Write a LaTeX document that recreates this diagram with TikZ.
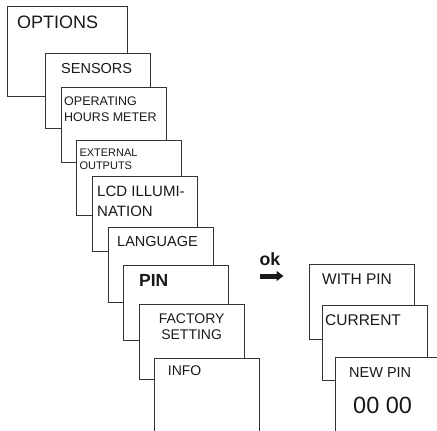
\documentclass[tikz,border=0pt]{standalone}
\usepackage{fontspec}
\setmainfont{Liberation Sans}
\usetikzlibrary{positioning, arrows.meta}

\begin{document}
\begin{tikzpicture}[
x=1pt, y=-1pt,
menubox/.style={rectangle, draw=black!80, fill=white, line width=0.8pt, anchor=north west, minimum width=104.5pt, minimum height=74.5pt, inner sep=0pt},
menutext/.style={inner sep=0pt, anchor=north west, align=left, text=black!90, font=\fontsize{14.5}{16}\selectfont},
]
\useasboundingbox (0,0) rectangle (437,431);
\clip (0,0) rectangle (437,431);

%Menu column
\node[menubox, minimum width=120pt, minimum height=90pt] (options) at (7,6) {};
\node[menutext, font=\fontsize{18}{20}\selectfont, below right=10pt and 10pt of options.north west] (optionstext) {OPTIONS};

\node[menubox] (sensors) at (45,53) {};
\node[menutext, below right=10pt and 16pt of sensors.north west] (sensorstext) {SENSORS};

\node[menubox] (operating) at (61,87) {};
\node[menutext, font=\fontsize{12.5}{16}\selectfont, below right=10pt and 3pt of operating.north west] (operatingtext) {OPERATING\\HOURS METER};

\node[menubox] (external) at (76,140) {};
\node[menutext, font=\fontsize{11}{12.7}\selectfont, below right=9pt and 3.3pt of external.north west] (externaltext) {EXTERNAL\\OUTPUTS};

\node[menubox] (lcd) at (92,176) {};
\node[menutext, font=\fontsize{15}{20}\selectfont, below right=10pt and 5pt of lcd.north west] (lcdtext) {LCD ILLUMI-\\NATION};

\node[menubox] (language) at (108,227) {};
\node[menutext, below right=9pt and 9pt of language.north west] (languagetext) {LANGUAGE};

\node[menubox] (pin) at (123,265) {};
\node[menutext, font=\fontsize{17.5}{20}\selectfont\bfseries, below right=9.3pt and 16pt of pin.north west] (pintext) {PIN};

\node[menubox] (factory) at (139,304) {};
\node[menutext, anchor=north, align=center, font=\fontsize{14}{16}\selectfont, below=9.3pt of factory.north] (factorytext) {FACTORY\\SETTING};

\node[menubox] (info) at (154,358) {};
\node[menutext, font=\fontsize{14}{16}\selectfont, below right=8pt and 13.7pt of info.north west] (infotext) {INFO};

%ok arrow
\node[menutext, font=\fontsize{17.7}{20}\selectfont\bfseries] (oklabel) at (259.3,252.7) {ok};
\coordinate (arrowstart) at (260,276);
\coordinate (arrowend) at (283.5,276);
\draw[-{Triangle[length=7pt, width=10pt]}, line width=5pt, black!90] (arrowstart) -- (arrowend);

%PIN submenu
\node[menubox] (withpin) at (309,264) {};
\node[menutext, font=\fontsize{15.5}{18}\selectfont, below right=9.3pt and 13pt of withpin.north west] (withpintext) {WITH PIN};

\node[menubox] (current) at (322,305) {};
\node[menutext, font=\fontsize{15.5}{18}\selectfont, below right=9pt and 3pt of current.north west] (currenttext) {CURRENT};

\node[menubox] (newpin) at (335,357) {};
\node[menutext, below right=10.7pt and 14pt of newpin.north west] (newpintext) {NEW PIN};
\node[menutext, font=\fontsize{23.5}{26}\selectfont, below right=39.7pt and 18pt of newpin.north west] (newpinvalue) {00 00};
\end{tikzpicture}
\end{document}
